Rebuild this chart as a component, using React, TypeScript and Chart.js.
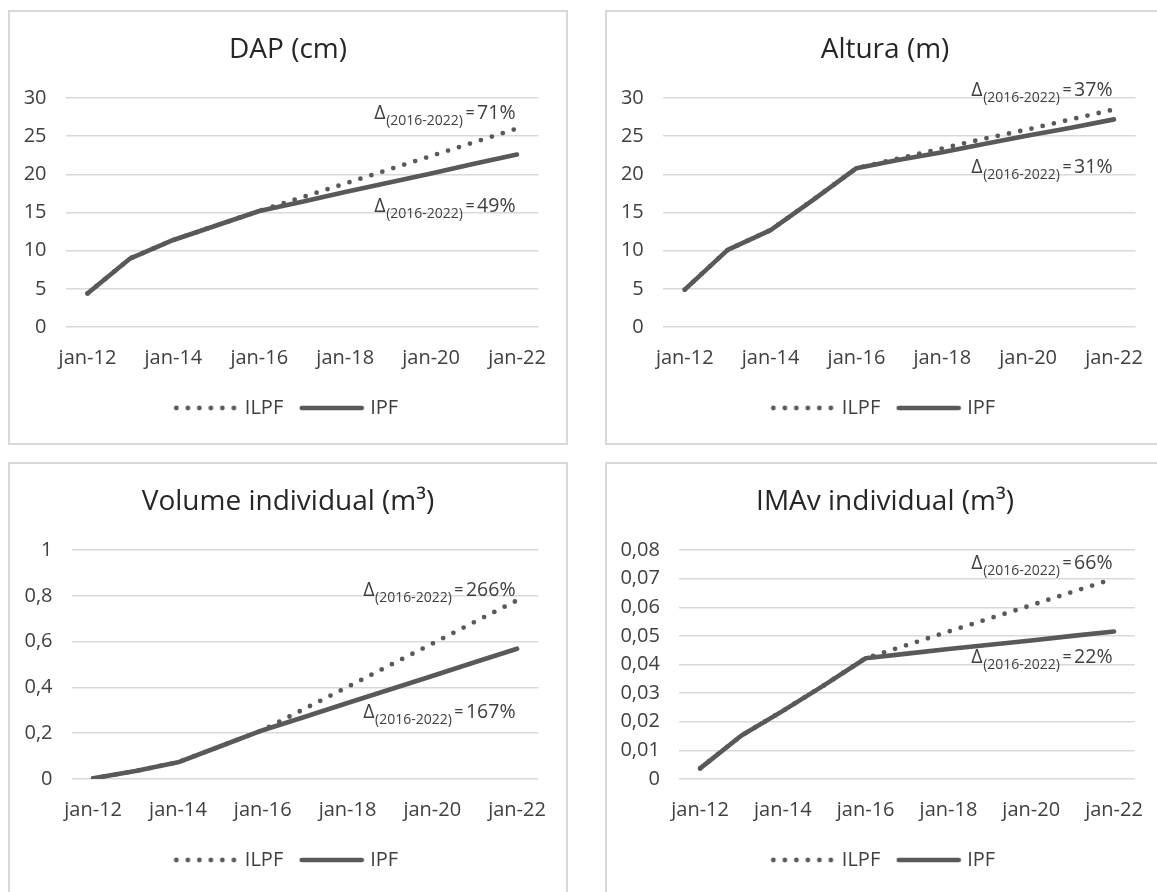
import React, { useEffect, useRef } from 'react';
import { Chart, registerables } from 'chart.js';

Chart.register(...registerables);

// ---------- data ----------
const categories = ['jan-12', 'jan-13', 'jan-14', 'jan-15', 'jan-16', 'jan-17', 'jan-18', 'jan-19', 'jan-20', 'jan-21', 'jan-22'];
const seriesNames = ['ILPF', 'IPF'];
const periodLabel = '(2016-2022)';

const dapILPF = [4.4, 9.0, 11.4, 13.3, 15.2, 17.0, 18.8, 20.6, 22.4, 24.2, 26.0];
const dapIPF = [4.4, 9.0, 11.4, 13.3, 15.2, 16.4, 17.7, 18.9, 20.1, 21.4, 22.6];

const alturaILPF = [4.9, 10.1, 12.7, 16.7, 20.8, 22.1, 23.4, 24.7, 25.9, 27.2, 28.5];
const alturaIPF = [4.9, 10.1, 12.7, 16.7, 20.8, 21.9, 22.9, 24.0, 25.1, 26.1, 27.2];

const volumeILPF = [0.003, 0.035, 0.073, 0.143, 0.213, 0.308, 0.402, 0.497, 0.591, 0.686, 0.78];
const volumeIPF = [0.003, 0.035, 0.073, 0.143, 0.213, 0.272, 0.332, 0.391, 0.45, 0.51, 0.569];

const imavILPF = [0.0037, 0.0152, 0.0238, 0.0328, 0.0422, 0.0468, 0.0515, 0.0561, 0.0607, 0.0654, 0.07];
const imavIPF = [0.0037, 0.0152, 0.0238, 0.0328, 0.0422, 0.0438, 0.0454, 0.0469, 0.0484, 0.05, 0.0515];

const deltaILPF = ['71%', '37%', '266%', '66%'];
const deltaIPF = ['49%', '31%', '167%', '22%'];

const titles = ['DAP (cm)', 'Altura (m)', 'Volume individual (m³)', 'IMAv individual (m³)'];

// y-axis ranges [min, max, step]
const yRanges = [
  [0, 30, 5],
  [0, 30, 5],
  [0, 1, 0.2],
  [0, 0.08, 0.01],
];

// ---------- style / layout ----------
const FONT = '"Open Sans", "Noto Sans", sans-serif';
const LINE = '#595959';
const GRID = '#d9d9d9';
const TEXT = '#404040';
const TITLE = '#262626';
const DOT_W = 4.8;
const SOLID_W = 4.6;
const DOT_GAP = 11.5;

type PanelCfg = {
  title: string;
  ilpf: number[];
  ipf: number[];
  range: number[];
  dIlpf: string;
  dIpf: string;
  left: number;
  top: number;
  yAxisWidth: number;
  annTop: number; // y value of baseline for ILPF annotation
  annBottom: number; // y value of baseline for IPF annotation
};

const panels: PanelCfg[] = [
  { title: titles[0], ilpf: dapILPF, ipf: dapIPF, range: yRanges[0], dIlpf: deltaILPF[0], dIpf: deltaIPF[0], left: 8, top: 10, yAxisWidth: 56, annTop: 27.25, annBottom: 15.1 },
  { title: titles[1], ilpf: alturaILPF, ipf: alturaIPF, range: yRanges[1], dIlpf: deltaILPF[1], dIpf: deltaIPF[1], left: 605, top: 10, yAxisWidth: 56.3, annTop: 30.2, annBottom: 20.2 },
  { title: titles[2], ilpf: volumeILPF, ipf: volumeIPF, range: yRanges[2], dIlpf: deltaILPF[2], dIpf: deltaIPF[2], left: 8, top: 462, yAxisWidth: 62, annTop: 0.799, annBottom: 0.265 },
  { title: titles[3], ilpf: imavILPF, ipf: imavIPF, range: yRanges[3], dIlpf: deltaILPF[3], dIpf: deltaIPF[3], left: 605, top: 462, yAxisWidth: 72.4, annTop: 0.0733, annBottom: 0.0405 },
];

const PANEL_W = 560;
const PANEL_H = 435;
const BORDER = 2;
const CANVAS_W = PANEL_W - 2 * BORDER;
const CANVAS_H = PANEL_H - 2 * BORDER;

function makeLegendSample(dotted: boolean): HTMLCanvasElement {
  const c = document.createElement('canvas');
  c.width = 66;
  c.height = 8;
  const g = c.getContext('2d')!;
  g.strokeStyle = LINE;
  g.lineCap = 'round';
  g.lineWidth = dotted ? DOT_W : SOLID_W;
  if (dotted) g.setLineDash([0, DOT_GAP]);
  g.beginPath();
  g.moveTo(3, 4);
  g.lineTo(63, 4);
  g.stroke();
  return c;
}

function fmtTick(v: number): string {
  const s = String(Number(v.toFixed(4)));
  return s.replace('.', ',');
}

function drawDelta(ctx: CanvasRenderingContext2D, right: number, baseline: number, pct: string) {
  const parts = [
    { t: 'Δ', f: `19.5px ${FONT}`, dy: 0, gap: 0 },
    { t: periodLabel, f: `14px ${FONT}`, dy: 6, gap: 0.5 },
    { t: '=', f: `16px ${FONT}`, dy: -1, gap: 2.5 },
    { t: pct, f: `19.5px ${FONT}`, dy: 0, gap: 2.5 },
  ];
  let total = 0;
  const widths: number[] = [];
  for (const p of parts) {
    ctx.font = p.f;
    const w = ctx.measureText(p.t).width;
    widths.push(w);
    total += w + p.gap;
  }
  let x = right - total;
  ctx.textAlign = 'left';
  ctx.textBaseline = 'alphabetic';
  ctx.fillStyle = TEXT;
  parts.forEach((p, i) => {
    x += p.gap;
    ctx.font = p.f;
    ctx.fillText(p.t, x, baseline + p.dy);
    x += widths[i];
  });
}

function PanelChart({ cfg }: { cfg: PanelCfg }) {
  const ref = useRef<HTMLCanvasElement | null>(null);

  useEffect(() => {
    if (!ref.current) return;
    const [yMin, yMax, yStep] = cfg.range;

    const deltaPlugin = {
      id: 'deltaLabels',
      afterDatasetsDraw(chart: any) {
        const { ctx, scales } = chart;
        const xs = scales.x;
        const ys = scales.y;
        const right = xs.getPixelForValue(categories.length - 1) - 1.5;
        ctx.save();
        drawDelta(ctx, right, ys.getPixelForValue(cfg.annTop), cfg.dIlpf);
        drawDelta(ctx, right, ys.getPixelForValue(cfg.annBottom), cfg.dIpf);
        ctx.restore();
      },
    };

    const chart = new Chart(ref.current, {
      type: 'line',
      data: {
        labels: categories,
        datasets: [
          {
            label: seriesNames[0],
            data: cfg.ilpf,
            borderColor: LINE,
            backgroundColor: LINE,
            borderWidth: DOT_W,
            borderDash: [0, DOT_GAP],
            borderCapStyle: 'round',
            borderJoinStyle: 'round',
            pointRadius: 0,
            pointHoverRadius: 0,
            pointStyle: makeLegendSample(true),
            tension: 0,
            fill: false,
          },
          {
            label: seriesNames[1],
            data: cfg.ipf,
            borderColor: LINE,
            backgroundColor: LINE,
            borderWidth: SOLID_W,
            borderCapStyle: 'round',
            borderJoinStyle: 'round',
            pointRadius: 0,
            pointHoverRadius: 0,
            pointStyle: makeLegendSample(false),
            tension: 0,
            fill: false,
          },
        ],
      },
      options: {
        responsive: false,
        animation: false,
        locale: 'pt-BR',
        layout: { padding: { left: 0, right: 0, top: 0, bottom: 15 } },
        events: [],
        plugins: {
          title: {
            display: true,
            text: cfg.title,
            color: TITLE,
            font: { family: FONT, size: 28, weight: 'normal' },
            padding: { top: 21, bottom: 31.4 },
          },
          legend: {
            display: true,
            position: 'bottom',
            labels: {
              usePointStyle: true,
              pointStyleWidth: 57,
              color: TEXT,
              font: { family: FONT, size: 20 },
              padding: 20,
            },
          },
          tooltip: { enabled: false },
        },
        scales: {
          x: {
            type: 'category',
            offset: true,
            grid: { display: false, drawTicks: false },
            border: { display: false },
            ticks: {
              autoSkip: false,
              maxRotation: 0,
              minRotation: 0,
              padding: 19,
              color: TEXT,
              font: { family: FONT, size: 20 },
              callback: (_v: any, i: number) => (i % 2 === 0 ? categories[i] : ''),
            },
            afterFit: (s: any) => {
              s.height = 51;
            },
          },
          y: {
            type: 'linear',
            min: yMin,
            max: yMax,
            ticks: {
              stepSize: yStep,
              padding: 19.5,
              color: TEXT,
              font: { family: FONT, size: 20 },
              callback: (v: any) => fmtTick(Number(v)),
            },
            grid: { color: GRID, lineWidth: 1.5, drawTicks: false },
            border: { display: false },
            afterFit: (s: any) => {
              s.width = cfg.yAxisWidth;
            },
          },
          yRight: {
            type: 'linear',
            position: 'right',
            display: true,
            ticks: { display: false },
            grid: { display: false, drawTicks: false },
            border: { display: false },
            afterFit: (s: any) => {
              s.width = 24.3;
            },
          },
        },
      } as any,
      plugins: [deltaPlugin],
    });

    return () => {
      chart.destroy();
    };
  }, [cfg]);

  return (
    <div
      style={{
        position: 'absolute',
        left: cfg.left,
        top: cfg.top,
        width: PANEL_W,
        height: PANEL_H,
        boxSizing: 'border-box',
        border: `${BORDER}px solid ${GRID}`,
        background: '#ffffff',
      }}
    >
      <canvas
        ref={ref}
        width={CANVAS_W}
        height={CANVAS_H}
        style={{ display: 'block', width: CANVAS_W, height: CANVAS_H }}
      />
    </div>
  );
}

export default function App() {
  return (
    <div
      style={{
        position: 'fixed',
        left: 0,
        top: 0,
        width: 1157,
        height: 892,
        overflow: 'hidden',
        background: '#ffffff',
      }}
    >
      {panels.map((p) => (
        <PanelChart key={p.title} cfg={p} />
      ))}
    </div>
  );
}
